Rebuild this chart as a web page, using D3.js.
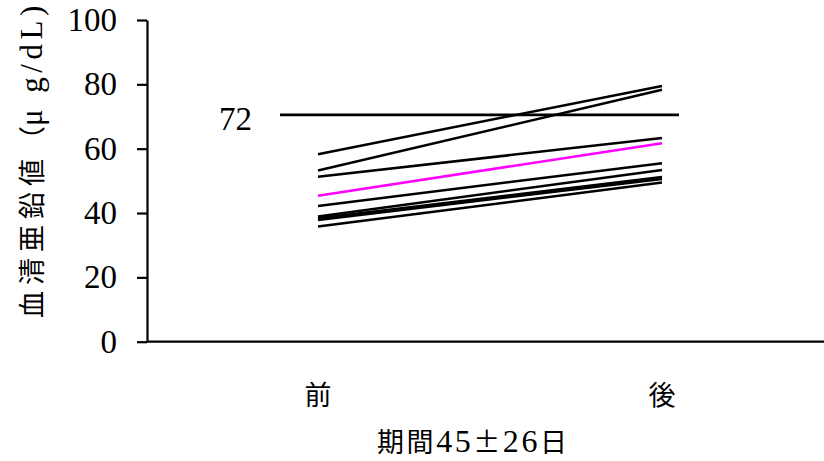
<!DOCTYPE html>
<html>
<head>
<meta charset="utf-8">
<script src="https://cdn.jsdelivr.net/npm/d3@7"></script>
<style>
  html, body { margin: 0; padding: 0; background: #fff; }
  svg { display: block; }
</style>
</head>
<body>
<svg id="chart" width="824" height="461"></svg>
<script>
// ---- data ----
const categories = ["前", "後"];
const beforeValues = [58.3, 53.2, 51.3, 42.2, 38.9, 38.4, 37.8, 35.8];
const afterValues  = [79.5, 78.3, 63.3, 55.5, 53.4, 51.2, 50.6, 49.5];
const highlightBefore = 45.4;
const highlightAfter = 61.7;
const refValue = 70.5;
const refLabel = "72";
const yTicks = [0, 20, 40, 60, 80, 100];
// title pieces: [text, isLatin]
const yTitleParts = [["血清亜鉛値", false], ["（", false], ["μ g/dL)", true]];
const xTitleParts = [["期間", false], ["45", true], ["±", false], ["26", true], ["日", false]];

// ---- layout ----
const svg = d3.select("#chart");
const axisX = 147, plotTop = 20, plotBottom = 341.7;
const numFont = "'Liberation Serif', 'Noto Sans CJK JP', serif";
const cjkFont = "'Noto Sans CJK JP', 'Liberation Serif', sans-serif";

const y = d3.scaleLinear().domain([0, 100]).range([plotBottom, plotTop]);
const x = d3.scalePoint().domain(categories).range([318, 662]);

// y axis
const yAxis = svg.append("g")
  .attr("transform", `translate(${axisX},0)`)
  .call(d3.axisLeft(y).tickValues(yTicks).tickSize(10).tickSizeOuter(0).tickPadding(20));
yAxis.select(".domain").attr("stroke", "#000").attr("stroke-width", 2.2);
yAxis.selectAll(".tick line").attr("stroke", "#000").attr("stroke-width", 2.2);
yAxis.selectAll(".tick text")
  .attr("fill", "#000")
  .style("font-family", numFont)
  .style("font-size", "33px");

// x axis baseline
svg.append("line")
  .attr("x1", axisX).attr("x2", 824)
  .attr("y1", y(0)).attr("y2", y(0))
  .attr("stroke", "#000").attr("stroke-width", 2.2);

// category labels
svg.selectAll("text.cat").data(categories).enter().append("text")
  .attr("class", "cat")
  .attr("x", d => x(d))
  .attr("y", 405)
  .attr("text-anchor", "middle")
  .style("font-family", cjkFont)
  .style("font-size", "27px")
  .attr("fill", "#000")
  .text(d => d);

// x title
const xt = svg.append("text")
  .attr("x", 472).attr("y", 452)
  .attr("text-anchor", "middle")
  .attr("textLength", 190).attr("lengthAdjust", "spacing")
  .attr("fill", "#000");
xt.selectAll("tspan").data(xTitleParts).enter().append("tspan")
  .style("font-family", d => d[1] ? numFont : cjkFont)
  .style("font-size", d => d[1] ? "32px" : "27px")
  .text(d => d[0]);

// y title (rotated, reading bottom to top)
const yt = svg.append("text")
  .attr("transform", `translate(42,318) rotate(-90)`)
  .attr("text-anchor", "start")
  .attr("fill", "#000");
yt.selectAll("tspan").data(yTitleParts).enter().append("tspan")
  .style("font-family", d => d[1] ? numFont : cjkFont)
  .style("font-size", d => d[1] ? "31px" : "27px")
  .style("letter-spacing", (d, i) => i === 0 ? "6px" : d[1] ? "4.5px" : "0px")
  .text(d => d[0]);

// reference line
svg.append("line")
  .attr("x1", x(categories[0]) - 38).attr("x2", x(categories[1]) + 17)
  .attr("y1", y(refValue)).attr("y2", y(refValue))
  .attr("stroke", "#000").attr("stroke-width", 2.8);
svg.append("text")
  .attr("x", 252).attr("y", y(refValue) + 15)
  .attr("text-anchor", "end")
  .style("font-family", numFont)
  .style("font-size", "33px")
  .attr("fill", "#000")
  .text(refLabel);

// individual lines
const pairs = beforeValues.map((b, i) => [b, afterValues[i]]);
const line = d3.line().x((d, i) => x(categories[i])).y(d => y(d));
svg.selectAll("path.subj").data(pairs).enter().append("path")
  .attr("class", "subj")
  .attr("d", line)
  .attr("fill", "none")
  .attr("stroke", "#000")
  .attr("stroke-width", 2.5);

svg.append("path")
  .attr("d", line([highlightBefore, highlightAfter]))
  .attr("fill", "none")
  .attr("stroke", "#ff00ff")
  .attr("stroke-width", 2.5);
</script>
</body>
</html>
